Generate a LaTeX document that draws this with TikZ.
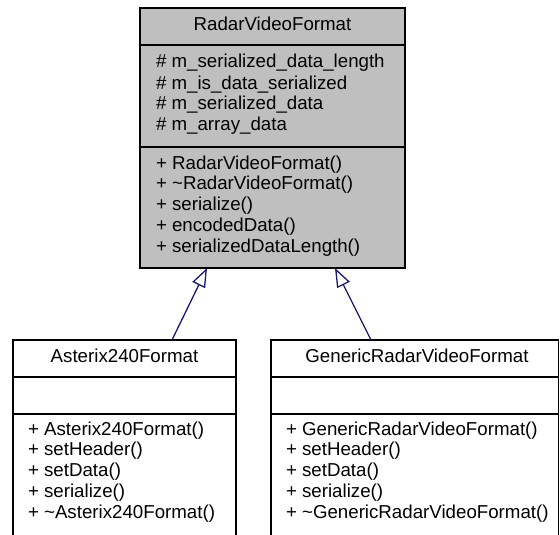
\documentclass[tikz,border=0pt]{standalone}
\usepackage{fontspec}
\setmainfont{Liberation Sans}
\usetikzlibrary{arrows.meta,calc}
\definecolor{boxgray}{HTML}{BFBFBF}
\definecolor{edgeblue}{HTML}{191970}
\begin{document}
\begin{tikzpicture}[x=1pt,y=-1pt,
  classbox/.style={draw=black,line width=1.3pt,inner sep=0pt,outer sep=0pt,anchor=north west},
  sepline/.style={draw=black,line width=1.3pt},
  txt/.style={inner sep=0pt,outer sep=0pt,font=\fontsize{18.7}{20.9}\selectfont,text=black},
  inherit/.style={draw=edgeblue,line width=1.3pt,-{Triangle[open,length=19pt,width=14pt]}}]
\useasboundingbox (0,0) rectangle (560,535);
\clip (0,0) rectangle (560,535);
\fill[white] (0,0) rectangle (560,535);

% base class
\node[classbox,fill=boxgray,minimum width=265pt,minimum height=260pt] (base) at (140,8) {};
\draw[sepline] ($(base.north west)+(0,37)$) -- ($(base.north east)+(0,37)$);
\draw[sepline] ($(base.north west)+(0,139)$) -- ($(base.north east)+(0,139)$);
\node[txt,anchor=base] (base-title) at (272.5,31) {RadarVideoFormat};
\foreach \t [count=\i] in {\# m\_serialized\_data\_length,\# m\_is\_data\_serialized,\# m\_serialized\_data,\# m\_array\_data}
  \node[txt,anchor=base west] (base-a\i) at ({156},{68+21*(\i-1)}) {\t};
\foreach \t [count=\i] in {+ RadarVideoFormat(),+ \textasciitilde RadarVideoFormat(),+ serialize(),+ encodedData(),+ serializedDataLength()}
  \node[txt,anchor=base west] (base-m\i) at ({156},{169+20.8*(\i-1)}) {\t};

% Asterix240Format
\node[classbox,fill=white,minimum width=223pt,minimum height=220pt] (lbox) at (13,340) {};
\draw[sepline] ($(lbox.north west)+(0,37)$) -- ($(lbox.north east)+(0,37)$);
\draw[sepline] ($(lbox.north west)+(0,74)$) -- ($(lbox.north east)+(0,74)$);
\node[txt,anchor=base] (lbox-title) at (124.5,362) {Asterix240Format};
\foreach \t [count=\i] in {+ Asterix240Format(),+ setHeader(),+ setData(),+ serialize(),+ \textasciitilde Asterix240Format()}
  \node[txt,anchor=base west] (lbox-m\i) at ({28},{435+20.8*(\i-1)}) {\t};

% GenericRadarVideoFormat
\node[classbox,fill=white,minimum width=287.5pt,minimum height=220pt] (rbox) at (271,340) {};
\draw[sepline] ($(rbox.north west)+(0,37)$) -- ($(rbox.north east)+(0,37)$);
\draw[sepline] ($(rbox.north west)+(0,74)$) -- ($(rbox.north east)+(0,74)$);
\node[txt,anchor=base] (rbox-title) at (417,362) {GenericRadarVideoFormat};
\foreach \t [count=\i] in {+ GenericRadarVideoFormat(),+ setHeader(),+ setData(),+ serialize(),+ \textasciitilde GenericRadarVideoFormat()}
  \node[txt,anchor=base west] (rbox-m\i) at ({286},{435+20.8*(\i-1)}) {\t};

% inheritance
\draw[inherit] ($(lbox.north west)+(159,0)$) -- ($(base.south west)+(67,0)$);
\draw[inherit] ($(rbox.north west)+(100,0)$) -- ($(base.south west)+(195,0)$);
\end{tikzpicture}
\end{document}
